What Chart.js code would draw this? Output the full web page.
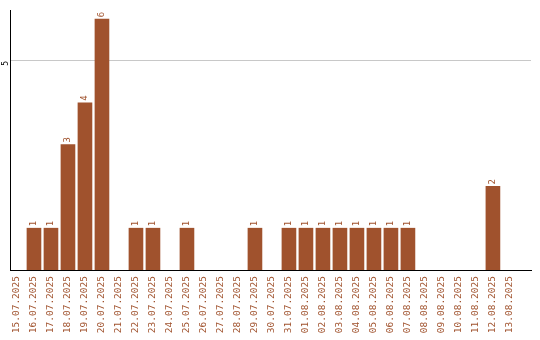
<!DOCTYPE html>
<html>
<head>
<meta charset="utf-8">
<script src="https://cdn.jsdelivr.net/npm/chart.js@4"></script>
<style>
  html, body { margin: 0; padding: 0; background: #fff; }
  #wrap { width: 540px; height: 340px; position: relative; }
</style>
</head>
<body>
<div id="wrap"><canvas id="c"></canvas></div>
<script>
// Daily counts
const dates = [
  '15.07.2025','16.07.2025','17.07.2025','18.07.2025','19.07.2025','20.07.2025',
  '21.07.2025','22.07.2025','23.07.2025','24.07.2025','25.07.2025','26.07.2025',
  '27.07.2025','28.07.2025','29.07.2025','30.07.2025','31.07.2025','01.08.2025',
  '02.08.2025','03.08.2025','04.08.2025','05.08.2025','06.08.2025','07.08.2025',
  '08.08.2025','09.08.2025','10.08.2025','11.08.2025','12.08.2025','13.08.2025'
];
const counts = [0,1,1,3,4,6,0,1,1,0,1,0,0,0,1,0,1,1,1,1,1,1,1,1,0,0,0,0,2,0];
const yTicks = [5];

const BROWN = '#A0522D';
const FONT = { family: '"DejaVu Sans Mono", monospace', size: 9.5 };

// Rotated value labels above each bar
const valueLabels = {
  id: 'valueLabels',
  afterDatasetsDraw(chart) {
    const ctx = chart.ctx;
    const meta = chart.getDatasetMeta(0);
    ctx.save();
    ctx.fillStyle = BROWN;
    ctx.font = '9px ' + FONT.family;
    ctx.textAlign = 'left';
    ctx.textBaseline = 'middle';
    meta.data.forEach((bar, i) => {
      const v = counts[i];
      if (!v) return;
      ctx.save();
      ctx.translate(bar.x, bar.y - 2);
      ctx.rotate(-Math.PI / 2);
      ctx.fillText(String(v), 0, 0);
      ctx.restore();
    });
    ctx.restore();
  }
};

new Chart(document.getElementById('c'), {
  type: 'bar',
  data: {
    datasets: [{
      data: counts.map((v, i) => ({ x: i, y: v > 0 ? v : null })),
      backgroundColor: BROWN,
      borderWidth: 0,
      barThickness: 14
    }]
  },
  options: {
    responsive: true,
    maintainAspectRatio: false,
    animation: false,
    layout: { padding: { top: 10, right: 9, bottom: 0, left: 0 } },
    plugins: { legend: { display: false }, tooltip: { enabled: false } },
    scales: {
      x: {
        type: 'linear',
        offset: false,
        min: -0.41,
        max: 30.24,
        afterBuildTicks(scale) { scale.ticks = dates.map((d, i) => ({ value: i })); },
        afterFit(scale) { scale.height = 70; },
        grid: { display: false, drawTicks: false },
        border: { display: true, color: '#000', width: 1 },
        ticks: {
          autoSkip: false,
          minRotation: 90,
          maxRotation: 90,
          padding: 6,
          color: BROWN,
          font: FONT,
          callback: (v) => dates[v] ?? ''
        }
      },
      y: {
        min: 0,
        max: 6.22,
        afterBuildTicks(scale) { scale.ticks = yTicks.map(v => ({ value: v })); },
        afterFit(scale) { scale.width = 10; },
        grid: { color: '#c8c8c8', drawTicks: false, lineWidth: 1 },
        border: { display: true, color: '#000', width: 1 },
        ticks: {
          minRotation: 90,
          maxRotation: 90,
          padding: 4,
          color: '#000',
          font: { family: '"DejaVu Sans Mono", monospace', size: 8 }
        }
      }
    }
  },
  plugins: [valueLabels]
});
</script>
</body>
</html>
